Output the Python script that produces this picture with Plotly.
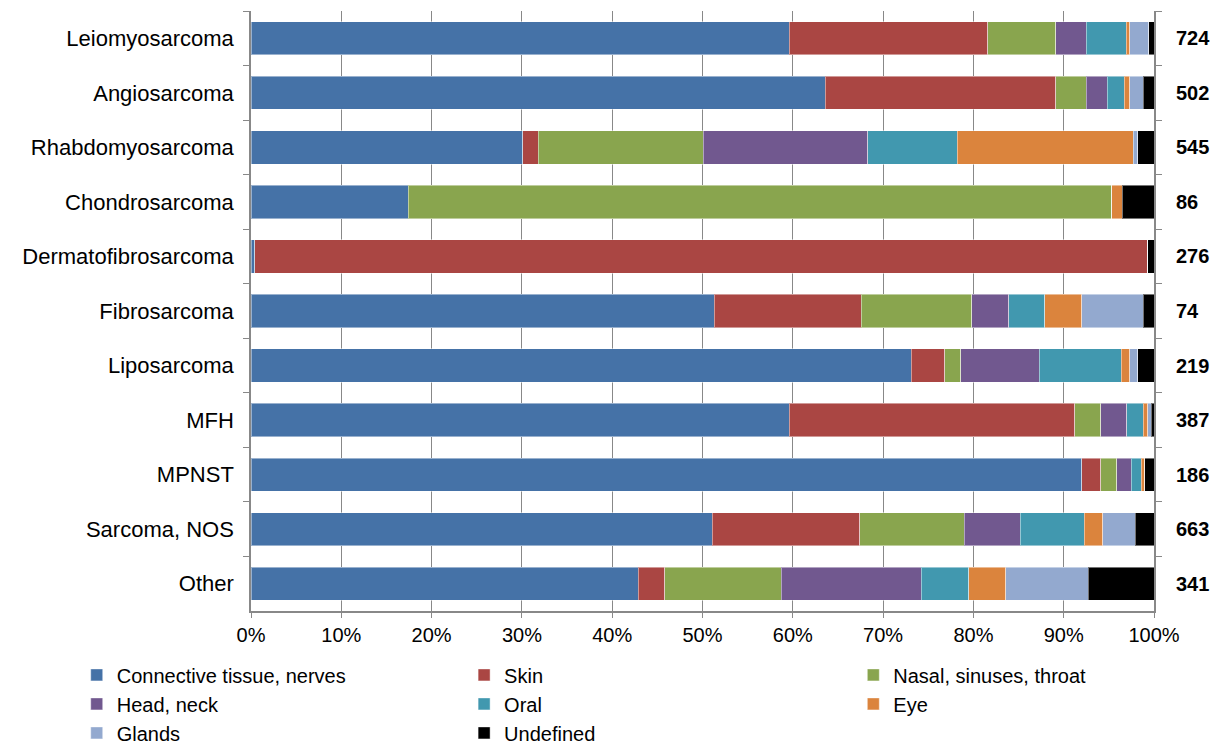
import plotly.graph_objects as go

# Sarcoma subtypes and their case counts
subtypes = ["Leiomyosarcoma", "Angiosarcoma", "Rhabdomyosarcoma", "Chondrosarcoma",
            "Dermatofibrosarcoma", "Fibrosarcoma", "Liposarcoma", "MFH", "MPNST",
            "Sarcoma, NOS", "Other"]
case_counts = [724, 502, 545, 86, 276, 74, 219, 387, 186, 663, 341]

# Share of cases (%) by anatomical site, one list per site
connective = [59.6, 63.6, 30.1, 17.4, 0.4, 51.3, 73.1, 59.6, 92.0, 51.1, 42.9]
skin = [22.0, 25.5, 1.7, 0.0, 98.9, 16.3, 3.7, 31.6, 2.1, 16.3, 2.9]
nasal = [7.5, 3.4, 18.3, 77.9, 0.0, 12.2, 1.8, 2.9, 1.8, 11.6, 12.9]
head_neck = [3.4, 2.3, 18.2, 0.0, 0.0, 4.1, 8.7, 2.9, 1.6, 6.2, 15.5]
oral = [4.4, 1.9, 9.9, 0.0, 0.0, 4.0, 9.1, 1.8, 1.1, 7.1, 5.3]
eye = [0.4, 0.6, 19.5, 1.2, 0.0, 4.1, 0.9, 0.5, 0.4, 2.0, 4.1]
glands = [2.1, 1.5, 0.5, 0.0, 0.0, 6.8, 0.9, 0.4, 0.0, 3.6, 9.1]
undefined = [0.6, 1.2, 1.8, 3.5, 0.7, 1.2, 1.8, 0.3, 1.0, 2.1, 7.3]

x_ticks = list(range(0, 101, 10))

FONT = "Liberation Sans, Arial, sans-serif"

series = [
    ("Connective tissue, nerves", connective, "#4572A7", "legend"),
    ("Skin", skin, "#AA4643", "legend2"),
    ("Nasal, sinuses, throat", nasal, "#89A54E", "legend3"),
    ("Head, neck", head_neck, "#71588F", "legend"),
    ("Oral", oral, "#4198AF", "legend2"),
    ("Eye", eye, "#DB843D", "legend3"),
    ("Glands", glands, "#93A9CF", "legend"),
    ("Undefined", undefined, "#000000", "legend2"),
]

fig = go.Figure()
for name, vals, color, leg in series:
    fig.add_trace(go.Bar(
        y=subtypes, x=vals, name=name, orientation="h",
        marker=dict(color=color, line=dict(color="rgba(255,255,255,0.45)", width=1)),
        legend=leg,
    ))

# Case counts printed to the right of each bar
for cat, n in zip(subtypes, case_counts):
    fig.add_annotation(
        x=1, xref="paper", y=cat, yref="y", xanchor="left", xshift=20,
        text=f"<b>{n}</b>", showarrow=False,
        font=dict(family=FONT, size=20, color="#000000"),
    )

legend_common = dict(
    orientation="v", yanchor="top", y=-0.074, xanchor="left",
    font=dict(family=FONT, size=20, color="#000000"),
    bgcolor="rgba(0,0,0,0)", traceorder="normal", tracegroupgap=0,
)

fig.update_layout(
    width=1219, height=749,
    barmode="stack", bargap=0.39,
    paper_bgcolor="white", plot_bgcolor="white",
    margin=dict(l=251, r=65, t=11, b=138, autoexpand=False),
    font=dict(family=FONT, color="#000000"),
    legend=dict(x=-0.193, **legend_common),
    legend2=dict(x=0.236, **legend_common),
    legend3=dict(x=0.667, **legend_common),
    xaxis=dict(
        range=[0, 100], tickvals=x_ticks, ticktext=[f"{v}%" for v in x_ticks],
        showgrid=True, gridcolor="#888888", gridwidth=1,
        showline=True, linecolor="#888888", linewidth=1.5,
        ticks="outside", ticklen=5, tickcolor="#888888",
        tickfont=dict(family=FONT, size=20, color="#000000"),
        zeroline=False,
    ),
    yaxis=dict(
        autorange="reversed", type="category",
        showline=True, linecolor="#888888", linewidth=1.5, mirror="ticks",
        ticks="outside", ticklen=6, tickcolor="#888888", tickson="boundaries",
        tickfont=dict(family=FONT, size=22, color="#000000"),
        ticklabelstandoff=11, showgrid=False,
    ),
)

fig.write_html("out.html")
